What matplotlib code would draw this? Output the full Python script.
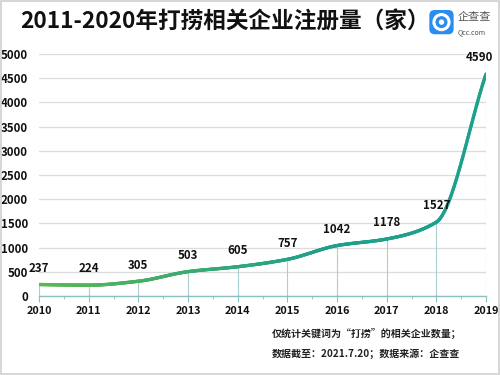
import numpy as np
import matplotlib
matplotlib.use("Agg")
import matplotlib.pyplot as plt
from matplotlib.collections import LineCollection
from matplotlib.patches import FancyBboxPatch, Circle, Rectangle

plt.rcParams['font.family'] = ['Noto Sans CJK SC', 'DejaVu Sans']

years = [2010, 2011, 2012, 2013, 2014, 2015, 2016, 2017, 2018, 2019]
counts = [237, 224, 305, 503, 605, 757, 1042, 1178, 1527, 4590]
yticks = [0, 500, 1000, 1500, 2000, 2500, 3000, 3500, 4000, 4500, 5000]
title = "2011-2020年打捞相关企业注册量（家）"
note1 = "仅统计关键词为“打捞”的相关企业数量；"
note2 = "数据截至：2021.7.20；数据来源：企查查"


def pchip(x, y, xs):
    x = np.asarray(x, float); y = np.asarray(y, float)
    h = np.diff(x); d = np.diff(y) / h
    m = np.zeros_like(y)
    for k in range(1, len(x) - 1):
        if d[k - 1] * d[k] > 0:
            w1 = 2 * h[k] + h[k - 1]; w2 = h[k] + 2 * h[k - 1]
            m[k] = (w1 + w2) / (w1 / d[k - 1] + w2 / d[k])
    m[0] = d[0]; m[-1] = d[-1]
    idx = np.clip(np.searchsorted(x, xs) - 1, 0, len(x) - 2)
    t = (xs - x[idx]) / h[idx]
    h00 = 2 * t**3 - 3 * t**2 + 1; h10 = t**3 - 2 * t**2 + t
    h01 = -2 * t**3 + 3 * t**2; h11 = t**3 - t**2
    return h00 * y[idx] + h10 * h[idx] * m[idx] + h01 * y[idx + 1] + h11 * h[idx] * m[idx + 1]


fig = plt.figure(figsize=(5, 3.75), dpi=100)
fig.patch.set_facecolor('white')
fig.add_artist(Rectangle((0.002, 0.002), 0.996, 0.996, transform=fig.transFigure,
                         fill=False, edgecolor='#d0d0d0', lw=1.2))

ax = fig.add_axes([0.078, 0.2107, 0.894, 0.645])
ax.set_xlim(years[0], years[-1])
ax.set_ylim(0, 5000)
ax.set_yticks(yticks)
ax.set_xticks(years)
ax.set_xticks(np.arange(years[0] + 0.5, years[-1], 1.0), minor=True)
for s in ['top', 'right', 'left']:
    ax.spines[s].set_visible(False)
ax.spines['bottom'].set_color('#8cc0c0')
ax.spines['bottom'].set_linewidth(1.0)
ax.grid(axis='y', color='#dcdcdc', lw=0.9)
ax.set_axisbelow(True)
ax.tick_params(axis='y', length=0, labelsize=8.3, pad=8, labelcolor='#111111')
ax.tick_params(axis='x', which='major', length=4, color='#8cc0c0', labelsize=7.8, labelcolor='#111111', pad=3)
ax.tick_params(axis='x', which='minor', length=2, color='#8cc0c0')
for lab in ax.get_xticklabels() + ax.get_yticklabels():
    lab.set_fontweight('bold')

# drop lines
for x, y in zip(years, counts):
    ax.plot([x, x], [0, y], color='#a8d0d0', lw=0.8, zorder=2)

xs = np.linspace(years[0], years[-1], 600)
ys = pchip(years, counts, xs)
pts = np.column_stack([xs, ys]).reshape(-1, 1, 2)
segs = np.concatenate([pts[:-1], pts[1:]], axis=1)
c0 = np.array([90, 185, 80]) / 255
c1 = np.array([30, 160, 140]) / 255
t = np.clip(np.linspace(0, 1, len(segs)) * 1.6, 0, 1)
cols = np.outer(1 - t, c0) + np.outer(t, c1)
lc = LineCollection(segs, colors=cols, lw=2.4, capstyle='round', zorder=3)
ax.add_collection(lc)

for i, (x, y) in enumerate(zip(years, counts)):
    dx = -5 if i == len(years) - 1 else 0
    ax.annotate(str(y), (x, y), xytext=(dx, 7), textcoords='offset points',
                ha='center', va='bottom', fontsize=8.3, color='#111111', fontweight='bold')

fig.text(0.45, 0.942, title, ha='center', va='center', fontsize=16.3, fontweight='bold', color='#111111')

# logo
lax = fig.add_axes([0.856, 0.905, 0.054, 0.072])
lax.set_xlim(0, 1); lax.set_ylim(0, 1); lax.axis('off')
lax.add_patch(FancyBboxPatch((0.05, 0.05), 0.9, 0.9, boxstyle='round,pad=0,rounding_size=0.2',
                             facecolor='#2b8cf0', edgecolor='none'))
lax.add_patch(Circle((0.5, 0.5), 0.28, fill=False, edgecolor='white', lw=2.2))
lax.add_patch(Circle((0.5, 0.5), 0.1, facecolor='white', edgecolor='none'))
fig.text(0.915, 0.955, "企查查", ha='left', va='center', fontsize=8, color='#555555')
fig.text(0.915, 0.915, "Qcc.com", ha='left', va='center', fontsize=5, color='#555555')

fig.text(0.544, 0.112, note1, ha='left', va='center', fontsize=7.2, fontweight='bold', color='#222222')
fig.text(0.544, 0.056, note2, ha='left', va='center', fontsize=7.2, fontweight='bold', color='#222222')

fig.savefig('out.png', dpi=100)
